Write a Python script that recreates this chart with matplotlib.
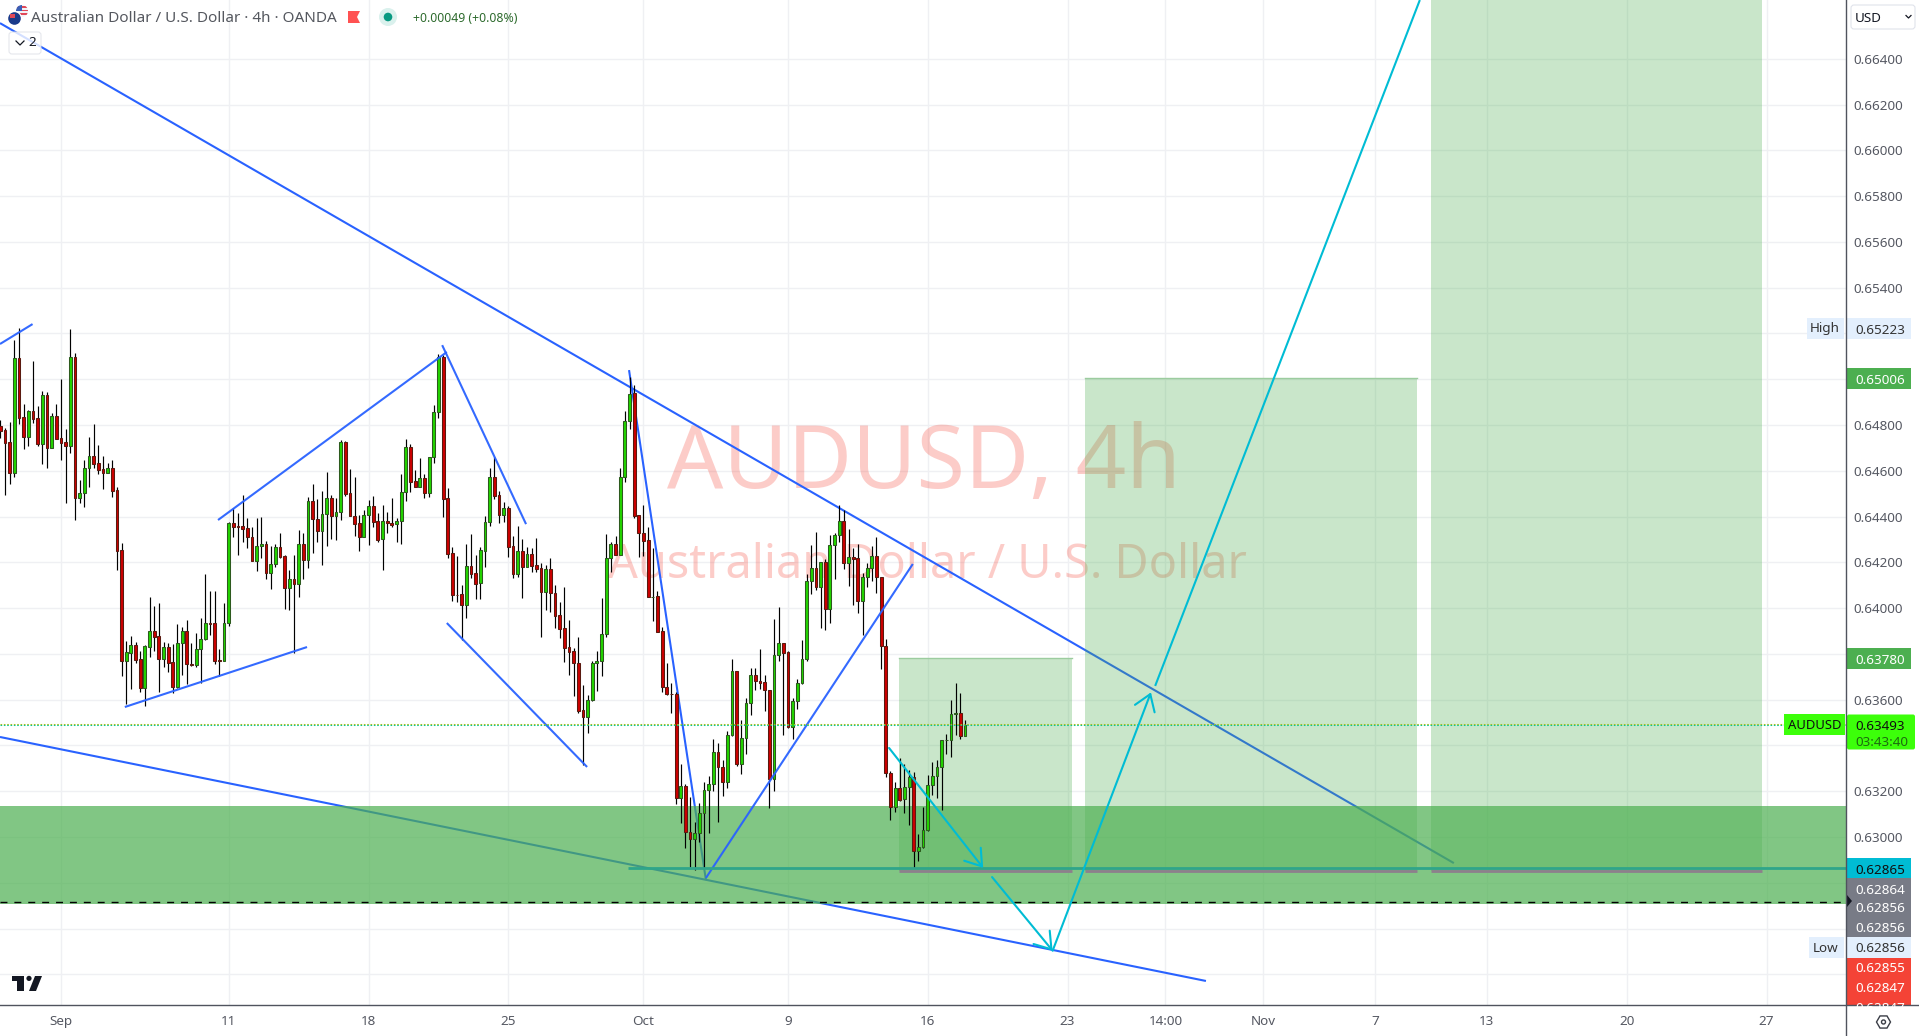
import matplotlib
matplotlib.use("Agg")
import matplotlib.pyplot as plt
import numpy as np
from matplotlib.patches import Rectangle, FancyBboxPatch, Polygon, Circle, RegularPolygon

plt.rcParams['font.family'] = ['Noto Sans', 'DejaVu Sans']

# ---- candles, quoted in 1e-5 of a US dollar ----
wick_hi = [64822,64785,64813,65171,65222,64892,64866,65080,64883,64949,
64943,64854,64892,65001,64781,65219,65114,64560,64647,64748,
64804,64713,64665,64633,64647,64531,64283,63857,63878,63851,
63813,63839,64047,64009,64021,63852,63846,63842,63931,63916,
63948,63846,63890,63955,64148,64075,64075,63820,64021,64378,
64436,64414,64494,64392,64356,64392,64397,64292,64273,64279,
64327,64232,64167,64232,64341,64327,64487,64542,64475,64512,
64593,64494,64480,64734,64730,64606,64574,64407,64429,64472,
64490,64414,64451,64421,64480,64392,64586,64737,64717,64603,
64654,64586,64659,64887,65110,65106,64523,64269,64228,64100,
64279,64322,64232,64269,64403,64611,64659,64513,64465,64448,
64317,64359,64302,64266,64261,64306,64196,64189,64218,64101,
64025,64091,63948,63825,63874,63664,63621,63769,63814,64043,
64324,64291,64315,64611,64861,65011,64975,64407,64451,64353,
64261,64075,63919,63759,63672,63635,63319,63232,63174,63067,
63148,63242,63267,63427,63410,63337,63461,63777,63724,63511,
63606,63737,63737,63820,63708,63643,63951,64004,63846,63813,
63606,63689,63861,64149,64276,64331,64203,64213,64320,64327,
64451,64429,64346,64264,64280,64152,64196,64272,64309,64138,
63864,63290,63239,63345,63317,63291,63282,63013,63131,63269,
63327,63336,63424,63450,63598,63673,63629,63511]

body_top = [64796,64778,64724,65091,65091,64833,64861,64861,64829,64930,
64930,64838,64838,64742,64724,65096,65096,64502,64611,64663,
64663,64633,64606,64611,64611,64515,64253,63807,63838,63838,
63776,63833,63899,63899,63877,63829,63829,63763,63846,63899,
63899,63758,63820,63864,63934,63934,63934,63772,63934,64370,
64370,64357,64357,64349,64309,64273,64279,64279,64191,64266,
64266,64226,64126,64126,64279,64279,64467,64467,64388,64410,
64480,64480,64419,64724,64724,64502,64404,64370,64405,64445,
64445,64379,64379,64379,64370,64379,64506,64702,64702,64554,
64567,64567,64659,64855,65098,65098,64480,64239,64059,64060,
64183,64183,64152,64253,64375,64571,64571,64493,64436,64436,
64270,64248,64248,64235,64235,64187,64174,64170,64170,64065,
63969,63912,63829,63813,63759,63554,63597,63759,63771,63889,
64221,64280,64280,64571,64816,64934,64938,64406,64327,64296,
64050,64052,63899,63654,63625,63624,63222,63222,63021,63016,
63107,63204,63231,63370,63370,63305,63445,63724,63724,63431,
63584,63707,63707,63680,63676,63641,63794,63846,63846,63809,
63594,63672,63777,64117,64174,64174,64200,64202,64274,64320,
64382,64382,64225,64225,64219,64135,64174,64226,64226,64135,
63836,63278,63212,63212,63217,63260,63260,62955,63029,63226,
63265,63304,63422,63424,63536,63540,63540,63491]

body_bot = [64775,64723,64592,64592,64832,64749,64749,64828,64717,64717,
64700,64701,64740,64723,64710,64710,64483,64483,64502,64611,
64631,64605,64592,64592,64513,64251,63771,63771,63806,63775,
63653,63653,63832,63875,63779,63779,63762,63656,63656,63846,
63756,63752,63752,63820,63864,63932,63771,63771,63771,63934,
64356,64356,64347,64309,64207,64207,64273,64155,64155,64191,
64225,64090,64090,64107,64107,64210,64210,64388,64338,64338,
64410,64404,64404,64419,64499,64404,64368,64312,64312,64405,
64378,64298,64301,64370,64365,64366,64379,64506,64553,64531,
64531,64504,64504,64659,64855,64477,64237,64059,64059,64015,
64015,64149,64105,64109,64251,64375,64490,64408,64408,64269,
64149,64151,64181,64181,64186,64173,64072,64072,64065,63967,
63910,63827,63810,63759,63551,63526,63526,63597,63759,63771,
63889,64221,64234,64234,64571,64816,64403,64327,64295,64047,
64047,63897,63654,63624,63624,63172,63172,63021,62990,62990,
63016,63107,63204,63231,63305,63242,63242,63445,63318,63319,
63431,63584,63680,63675,63641,63255,63255,63794,63806,63482,
63482,63594,63672,63777,64117,64094,64094,63995,63995,64274,
64320,64199,64199,64216,64033,64033,64135,64174,64135,63836,
63279,63132,63132,63161,63164,63217,62940,62940,62955,63029,
63226,63265,63304,63422,63422,63536,63442,63442]

wick_lo = [64742,64494,64542,64574,64804,64695,64708,64810,64710,64630,
64614,64701,64737,64647,64461,64679,64385,64461,64443,64531,
64611,64586,64520,64592,64487,64167,63705,63580,63647,63762,
63635,63574,63785,63813,63635,63744,63723,63628,63650,63708,
63669,63749,63744,63675,63861,63883,63756,63705,63771,63922,
64312,64232,64290,64261,64207,64164,64218,64129,64085,64181,
64218,63996,63992,63806,64050,64126,64177,64239,64290,64188,
64271,64302,64298,64385,64491,64404,64315,64251,64309,64276,
64356,64290,64167,64327,64353,64290,64280,64469,64509,64531,
64531,64483,64487,64635,64829,64400,64218,64031,64025,63861,
63958,64130,64040,64041,64178,64360,64478,64371,64378,64225,
64133,64138,64046,64178,64159,64158,63876,63992,63982,63915,
63871,63766,63708,63618,63541,63315,63453,63596,63640,63705,
63876,64159,64232,64232,64553,64781,64392,64225,64228,64047,
63945,63897,63635,63621,63541,63145,63060,62951,62871,62856,
62976,62864,63019,63199,63067,63177,63213,63442,63311,63276,
63363,63533,63643,63645,63552,63126,63199,63771,63446,63478,
63429,63560,63669,63771,64062,64079,63915,63905,63937,64127,
64288,64171,64098,64014,63980,63883,64094,64120,64065,63734,
63261,63074,63110,63159,63106,63052,62866,62895,62953,63028,
63183,63170,63118,63362,63351,63447,63428,63441]

direction = ("RRRGRRGRRG" "RGRRRGRGGG" "RRRGRRRGGR" "RGGRRGRRGG" "RRGGGRRRGG"
             "RRRRRGGRGG" "RRGRGRGRRG" "GRGGRRRRGG" "RRGRRGGGRR" "GRGGGRRRRR"
             "GRRGGGRRGR" "RGRGRRRGRR" "RRRRRRGGGG" "GGRGGGRRRR" "GRRRRRGRRG"
             "GGGGRRGGRG" "GGRRRRGGRR" "GGGGGRGRGG" "GRGRRGGGRR" "RRGRGGRGGG"
             "GGGGGGRG")

# ---- axes labels ----
x_tick_bars = [13, 49, 79, 109, 138, 169, 199, 229, 250, 271, 295, 319, 349, 379]
x_tick_labels = ["Sep", "11", "18", "25", "Oct", "9", "16", "23", "14:00", "Nov", "7", "13", "20", "27"]
major_labels = ["Sep", "Oct", "Nov"]
y_grid = [0.624, 0.626, 0.628, 0.630, 0.632, 0.634, 0.636, 0.638, 0.640, 0.642, 0.644, 0.646, 0.648,
          0.650, 0.652, 0.654, 0.656, 0.658, 0.660, 0.662, 0.664]
y_hidden = [0.624, 0.626, 0.628, 0.634, 0.638, 0.650, 0.652]

# ---- drawings, (bar, price) pairs ----
blue_under_zone = [((-0.09, 311.9), (0.66556, 0.62886)),
                   ((-0.09, 258.7), (0.63437, 0.62371)),
                   ((134.9, 151.4), (0.6504, 0.62812))]
blue_over_zone = [((26.7, 65.8), (0.63568, 0.6383)),
                  ((46.7, 95.8), (0.64385, 0.65119)),
                  ((94.8, 112.8), (0.65149, 0.64367)),
                  ((95.8, 125.9), (0.63935, 0.63306)),
                  ((151.4, 195.8), (0.62821, 0.64193)),
                  ((-0.09, 6.9), (0.65154, 0.65241))]
cyan_arrows = [((190.7, 0.63389), (210.9, 0.62865)),
               ((212.8, 0.62825), (225.8, 0.62503)),
               ((225.8, 0.62503), (246.9, 0.63632))]
cyan_plain = [((247.8, 304.6), (0.6366, 0.66657))]
box_left = [192.8, 232.7, 307.0]
box_right = [230.0, 304.0, 378.0]
box_top = [0.63780, 0.65006, 0.66700]
box_bottom = 0.62852
zone_top, zone_bottom = 0.63135, 0.62707
support_price = 0.62865
dashed_price = 0.62718
last_price = 0.63493
support_start_bar = 134.7

BLUE = "#2962ff"
CYAN = "#00bcd4"
ZONE = "#4caf50"

W, H = 1919, 1036
AX_R, AX_B = 1846, 1005
fig = plt.figure(figsize=(W / 100, H / 100), dpi=100, facecolor="white")
ax = fig.add_axes([0, (H - AX_B) / H, AX_R / W, AX_B / H])
ax.set_xlim(-0.086, 396.05)
ax.set_ylim(0.62266, 0.66657)

ax.set_yticks(y_grid)
ax.set_yticklabels(["" if t in y_hidden else f"{t:.5f}" for t in y_grid])
ax.yaxis.tick_right()
ax.set_xticks(x_tick_bars)
ax.set_xticklabels(x_tick_labels)
ax.tick_params(axis="both", length=0, labelsize=9.7, labelcolor="#555862")
ax.tick_params(axis="x", pad=7)
ax.tick_params(axis="y", pad=5)
for lab in ax.get_xticklabels():
    if lab.get_text() in major_labels:
        lab.set_fontweight("bold")
        lab.set_color("#555862")
ax.grid(True, color="#eff0f3", lw=1.0, zorder=0)
ax.set_axisbelow(True)
for s in ("top", "left", "right", "bottom"):
    ax.spines[s].set_visible(False)

# watermark
for txt, xp, yp, size in [("AUDUSD, 4h", 667, 488, 63.5), ("Australian Dollar / U.S. Dollar", 608, 578, 33.7)]:
    ax.text(xp / W, 1 - yp / H, txt, transform=fig.transFigure, fontsize=size, color="#f44336",
            alpha=0.27, ha="left", va="baseline", zorder=1)

# drawings beneath the zone
for xs, ys in blue_under_zone:
    ax.plot(xs, ys, color=BLUE, lw=1.5, zorder=2, solid_capstyle="butt")

# zone
ax.axhspan(zone_bottom, zone_top, color=ZONE, alpha=0.7, lw=0, zorder=3)

# target boxes
for l, r, t in zip(box_left, box_right, box_top):
    ax.add_patch(Rectangle((l, box_bottom), r - l, t - box_bottom, facecolor=ZONE, alpha=0.3, lw=0, zorder=4))
    ax.plot([l, r], [box_bottom, box_bottom], color="#8d7f8c", lw=2.0, zorder=4.5, solid_capstyle="butt")
ax.plot([box_left[0], box_right[0]], [box_top[0]] * 2, color="#9ccc9f", lw=1, zorder=4.5)
ax.plot([box_left[1], box_right[1]], [box_top[1]] * 2, color="#9ccc9f", lw=1, zorder=4.5)

# candles
idx = np.arange(len(direction))
hi = np.array(wick_hi) / 1e5
lo = np.array(wick_lo) / 1e5
top = np.array(body_top) / 1e5
bot = np.array(body_bot) / 1e5
ax.vlines(idx, lo, hi, color="black", lw=0.85, zorder=5)
fills = ["#22d400" if d == "G" else "#cc0000" for d in direction]
edges = ["#2d5a1e" if d == "G" else "#5a1a10" for d in direction]
ax.bar(idx, top - bot, bottom=bot, width=0.6, color=fills, edgecolor=edges, linewidth=0.75, zorder=6)

# blue drawings above the zone
for xs, ys in blue_over_zone:
    ax.plot(xs, ys, color=BLUE, lw=1.5, alpha=0.95, zorder=7, solid_capstyle="butt")

# lines
ax.plot([support_start_bar, 396.05], [support_price] * 2, color="#2fa58a", lw=2.0, zorder=7, solid_capstyle="butt")
ax.plot([-0.09, 396.05], [dashed_price] * 2, color="black", lw=1.0, ls=(0, (5, 5)), zorder=7)
ax.plot([-0.09, 396.05], [last_price + 2.2e-5] * 2, color="#a8c020", lw=0.75, ls=(0, (1.6, 1.6)), zorder=7)
ax.plot([-0.09, 396.05], [last_price - 2.2e-5] * 2, color="#10c890", lw=0.75, ls=(0, (1.6, 1.6)), zorder=7)

for start, end in cyan_arrows:
    ax.annotate("", xy=end, xytext=start, zorder=8,
                arrowprops=dict(arrowstyle="->,head_length=0.62,head_width=0.42", color=CYAN, lw=1.5,
                                shrinkA=0, shrinkB=0, mutation_scale=18))
for xs, ys in cyan_plain:
    ax.plot(xs, ys, color=CYAN, lw=1.5, zorder=8, solid_capstyle="butt")

# ---- chrome on an overlay in pixels ----
ov = fig.add_axes([0, 0, 1, 1], facecolor="none")
ov.set_xlim(0, W)
ov.set_ylim(H, 0)
ov.axis("off")
AX_COL = "#50535e"
ov.plot([AX_R, AX_R], [0, H], color=AX_COL, lw=1.0)
ov.plot([0, W], [AX_B, AX_B], color=AX_COL, lw=1.0)

TAG_FS = 9.7
def tag(y0, y1, x1, bg):
    ov.add_patch(Rectangle((AX_R + 0.5, y0), x1 - AX_R - 0.5, y1 - y0, facecolor=bg, lw=0))
def val(y, s, col):
    return ov.text(1880, y, s, ha="center", va="center", fontsize=TAG_FS, color=col)

LIGHT = "#e3effd"
# High
tag(318, 338.5, 1911, LIGHT)
ov.add_patch(Rectangle((1807, 318), 37, 20.5, facecolor=LIGHT, lw=0))
ov.text(1825, 328.5, "High", ha="center", va="center", fontsize=TAG_FS, color="#333")
val(330, "0.65223", "#333")
# green targets
tag(368, 389, 1911, "#4caf50")
val(380, "0.65006", "white")
tag(648, 669, 1911, "#4caf50")
val(660, "0.63780", "white")
# last price
ov.add_patch(Rectangle((1784, 714), 61, 21, facecolor="#3cff0a", lw=0))
ov.text(1814.5, 725.5, "AUDUSD", ha="center", va="center", fontsize=TAG_FS - 0.3, color="#101010")
ov.add_patch(FancyBboxPatch((1847, 714.5), 68, 35, boxstyle="round,pad=0,rounding_size=2", facecolor="#3cff0a", lw=0))
ov.text(1880, 726, "0.63493", ha="center", va="center", fontsize=TAG_FS, color="#101010")
ov.text(1882, 742.5, "03:43:40", ha="center", va="center", fontsize=TAG_FS, color="#1d6b10")
# stacked tags
tag(858, 878, 1911, "#00bcd4")
val(870, "0.62865", "#101010")
tag(878, 937, 1911, "#787b86")
val(891, "0.62864", "white")
val(909, "0.62856", "white")
val(929, "0.62856", "white")
ov.add_patch(Polygon([[1847, 895], [1852, 901], [1847, 907]], facecolor="#131722", lw=0))
tag(937, 958, 1911, LIGHT)
ov.add_patch(Rectangle((1809, 937), 35, 21, facecolor=LIGHT, lw=0))
ov.text(1826, 948, "Low", ha="center", va="center", fontsize=TAG_FS, color="#333")
val(949, "0.62856", "#333")
tag(958, 1004.5, 1911, "#f44336")
val(969, "0.62855", "white")
val(989, "0.62847", "white")
clip_rect = Rectangle((1846, 958), 65, 46.5, transform=ov.transData, facecolor="none", lw=0)
ov.add_patch(clip_rect)
t = val(1008, "0.62847", "white")
t.set_clip_path(clip_rect)

# currency box
ov.add_patch(FancyBboxPatch((1851, 5), 64, 24, boxstyle="round,pad=0,rounding_size=3",
                            facecolor="white", edgecolor="#e0e3eb", lw=0.8))
ov.text(1855, 18, "USD", ha="left", va="center", fontsize=9.7, color="#131722")
ov.plot([1906, 1908.5, 1911], [15.5, 18, 15.5], color="#131722", lw=0.9)

# settings icon
ov.add_patch(RegularPolygon((1883.5, 1022), 6, radius=7, orientation=np.pi / 6, facecolor="none",
                            edgecolor="#3a3d46", lw=1.0))
ov.add_patch(Circle((1883.5, 1022), 2, facecolor="none", edgecolor="#3a3d46", lw=1.0))

# title row
us_clip = Circle((22, 11), 6, facecolor="#f2f2f6", lw=0)
ov.add_patch(us_clip)
for yy in (6, 9.5, 13):
    ov.add_patch(Rectangle((16, yy), 12, 1.8, facecolor="#e04858", lw=0, clip_path=us_clip))
ov.add_patch(Rectangle((16, 5), 6, 6, facecolor="#3b5fb5", lw=0, clip_path=us_clip))
ov.add_patch(Circle((14.5, 18.5), 7.5, facecolor="white", lw=0))
ov.add_patch(Circle((14.5, 18.5), 6.3, facecolor="#1a3a8a", lw=0))
ov.add_patch(Rectangle((10, 14), 5, 3.5, facecolor="#e04858", lw=0))
ov.text(31, 18.5, "Australian Dollar / U.S. Dollar · 4h · OANDA", ha="left", va="center",
        fontsize=11.0, color="#55585f")
ov.add_patch(Polygon([[348, 11], [360, 11], [357, 17], [360, 23], [348, 23]], facecolor="#ff5252", lw=0))
ov.add_patch(Circle((388, 17), 9, facecolor="#daf1ed", lw=0))
ov.add_patch(Circle((388, 17), 4.3, facecolor="#089981", lw=0))
ov.text(413, 18, "+0.00049 (+0.08%)", ha="left", va="center", fontsize=8.8, color="#2e6b2e")
ov.add_patch(FancyBboxPatch((9, 32), 32, 22, boxstyle="round,pad=0,rounding_size=3",
                            facecolor="white", edgecolor="#dfe1e8", lw=0.8, alpha=0.8))
ov.plot([16, 20, 24], [41, 45, 41], color="#131722", lw=0.9)
ov.text(32, 43, "2", ha="center", va="center", fontsize=9.7, color="#131722")

# logo
LOGO = "#131722"
ov.add_patch(Polygon([[12, 976], [24.3, 976], [24.3, 991], [17.3, 991], [17.3, 980.7], [12, 980.7]], facecolor=LOGO, lw=0))
ov.add_patch(Circle((29, 978.4), 2.6, facecolor=LOGO, lw=0))
ov.add_patch(Polygon([[29, 991], [36, 991], [42, 976], [35, 976]], facecolor=LOGO, lw=0))

fig.savefig("out.png", dpi=100, facecolor="white")
